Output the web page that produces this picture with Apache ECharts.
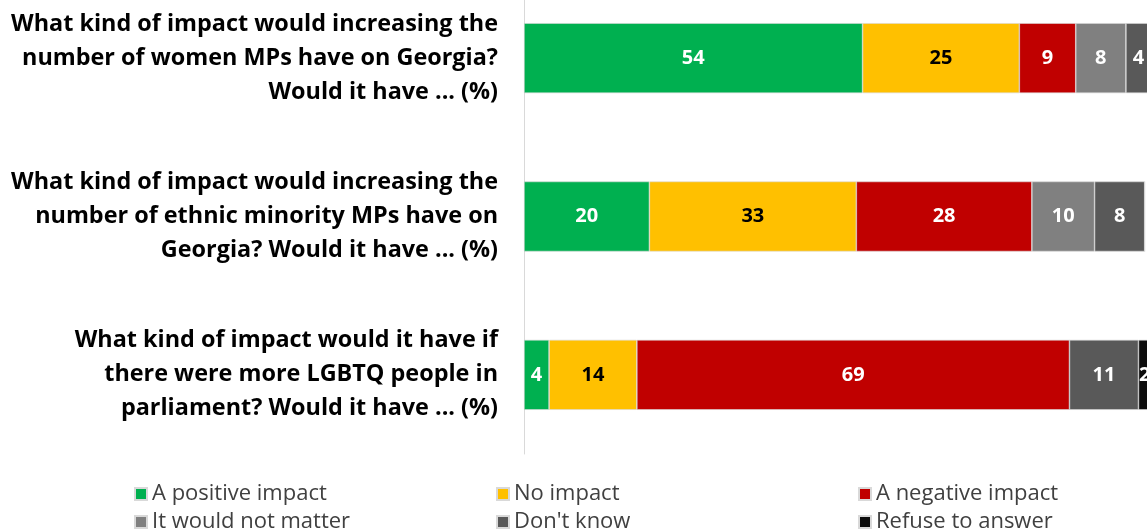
<!DOCTYPE html>
<html>
<head>
<meta charset="utf-8">
<script src="https://cdn.jsdelivr.net/npm/echarts@6/dist/echarts.min.js"></script>
<style>
  html, body { margin: 0; padding: 0; background: #fff; overflow: hidden; }
  /* the original picture is cropped at the top and right, so the canvas runs past the window */
  #main { position: absolute; left: 0; top: -21px; width: 1160px; height: 553px; }
</style>
</head>
<body>
<div id="main"></div>
<script>
// questions, top to bottom
var questions = [
  'What kind of impact would increasing the\nnumber of women MPs have on Georgia?\nWould it have ... (%)',
  'What kind of impact would increasing the\nnumber of ethnic minority MPs have on\nGeorgia? Would it have ... (%)',
  'What kind of impact would it have if\nthere were more LGBTQ people in\nparliament? Would it have ... (%)'
]
var seriesNames = ['A positive impact', 'No impact', 'A negative impact', 'It would not matter', "Don't know", 'Refuse to answer']
var positive = [54, 20, 4]
var noImpact = [25, 33, 14]
var negative = [9, 28, 69]
var notMatter = [8, 10, 0]
var dontKnow = [4, 8, 11]
var refuse = [0, 0, 2]

var colors = ['#00B050', '#FFC000', '#C00000', '#808080', '#595959', '#0D0D0D']
var labelColors = ['#fff', '#000', '#fff', '#fff', '#fff', '#fff']
var values = [positive, noImpact, negative, notMatter, dontKnow, refuse]

var chart = echarts.init(document.getElementById('main'))

var series = seriesNames.map(function (name, i) {
  return {
    name: name,
    type: 'bar',
    stack: 'total',
    barWidth: 70,
    data: values[i],
    itemStyle: { color: colors[i], borderColor: '#d9d9d9', borderWidth: 0.6 },
    label: {
      show: true,
      color: labelColors[i],
      fontFamily: 'Open Sans',
      fontWeight: 'bold',
      fontSize: 20,
      formatter: function (p) { return p.value > 0 ? p.value : '' }
    }
  }
})

function legendCol(left, names) {
  return {
    orient: 'vertical',
    left: left,
    top: 504,
    padding: 0,
    height: 60,
    itemWidth: 12,
    itemHeight: 12,
    itemGap: 6,
    icon: 'rect',
    textStyle: { fontFamily: 'Open Sans', fontSize: 22, lineHeight: 22, color: '#404040' },
    data: names
  }
}

chart.setOption({
  animation: false,
  color: colors,
  legend: [
    legendCol(134, [seriesNames[0], seriesNames[3]]),
    legendCol(496, [seriesNames[1], seriesNames[4]]),
    legendCol(858, [seriesNames[2], seriesNames[5]])
  ],
  grid: { left: 524, top: 0, width: 627, height: 475 },
  xAxis: {
    type: 'value',
    min: 0,
    max: 100,
    show: false
  },
  yAxis: {
    type: 'category',
    inverse: true,
    data: questions,
    axisLine: { show: true, lineStyle: { color: '#d9d9d9' } },
    axisTick: { show: false },
    axisLabel: {
      margin: 26,
      align: 'right',
      fontFamily: 'Open Sans',
      fontWeight: 'bold',
      fontSize: 23.4,
      lineHeight: 34,
      color: '#000'
    }
  },
  series: series
})
</script>
</body>
</html>
